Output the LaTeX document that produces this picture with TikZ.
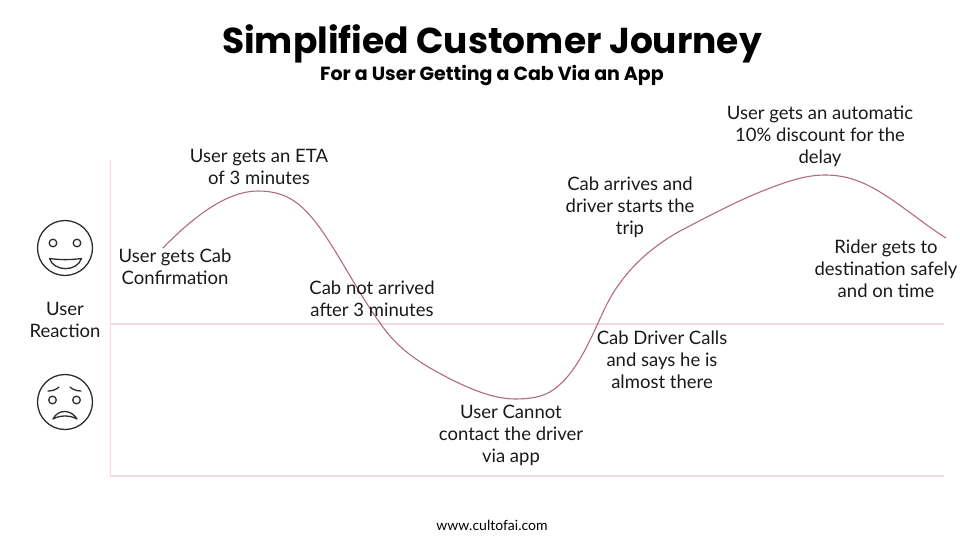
\documentclass[tikz,border=0pt]{standalone}
\usepackage{fontspec}
\setmainfont{Lato}
\newfontfamily\titlefont{Poppins}
\definecolor{axispink}{RGB}{248,214,226}
\definecolor{curvewine}{RGB}{178,105,130}
\definecolor{faceink}{RGB}{45,45,45}
\tikzset{
  axisline/.style={draw=axispink,line width=1.6pt},
  journey/.style={draw=curvewine,line width=1.1pt},
  label/.style={align=center,font=\fontsize{18.5}{22}\selectfont,text=black!90,inner sep=0pt},
  faceline/.style={draw=faceink,line width=1.3pt,line cap=round,line join=round},
}
\begin{document}
\begin{tikzpicture}[x=1pt,y=-1pt]
\useasboundingbox (0,0) rectangle (960,540);
\coordinate (axtop) at (110.5,160);
\coordinate (axorigin) at (110.5,476);
\coordinate (axend) at (944,476);
\coordinate (midl) at (110.5,324);
\coordinate (midr) at (944,324);
\draw[axisline] (axtop) -- (axorigin) -- (axend);
\draw[axisline] (midl) -- (midr);
\draw[journey] (163,248) .. controls (195,215) and (228,191) .. (258,191)
  .. controls (288,191) and (303,205) .. (320,228)
  .. controls (340,256) and (360,296) .. (380,323)
  .. controls (393,342) and (408,355) .. (430,368)
  .. controls (460,385) and (490,399) .. (515,399)
  .. controls (530,399) and (543,397) .. (553,390)
  .. controls (572,377) and (585,352) .. (598,323)
  .. controls (604,310) and (610,296) .. (620,283)
  .. controls (635,262) and (655,245) .. (680,231)
  .. controls (705,218) and (733,203) .. (760,192)
  .. controls (785,182) and (805,175) .. (825,175)
  .. controls (845,175) and (862,181) .. (880,192)
  .. controls (903,206) and (925,225) .. (946,238);
\node[inner sep=0pt,font=\titlefont\bfseries\fontsize{36}{40}\selectfont] (title) at (492,44) {Simplified Customer Journey};
\node[inner sep=0pt,font=\titlefont\bfseries\fontsize{19}{22}\selectfont] (subtitle) at (492,76) {For a User Getting a Cab Via an App};
\node[label] (n1) at (175,267) {User gets Cab\\Confirmation};
\node[label] (n2) at (259,167) {User gets an ETA\\of 3 minutes};
\node[label] (n3) at (372,299) {Cab not arrived\\after 3 minutes};
\node[label] (n4) at (511,435) {User Cannot\\contact the driver\\via app};
\node[label] (n5) at (662,359.5) {Cab Driver Calls\\and says he is\\almost there};
\node[label] (n6) at (630,207.5) {Cab arrives and\\driver starts the\\trip};
\node[label] (n7) at (820,136.5) {User gets an automatic\\10\% discount for the\\delay};
\node[label] (n8) at (886,268.5) {Rider gets to\\destination safely\\and on time};
\node[label] (ylab) at (65,320) {User\\Reaction};
\node[inner sep=0pt,font=\fontsize{14}{16}\selectfont] (site) at (492,525) {www.cultofai.com};
% happy face
\draw[faceline] (65,248) circle (27.5);
\draw[faceline] (53,243) circle (3.8);
\draw[faceline] (77,243) circle (3.8);
\draw[faceline] (49.5,258.5) .. controls (60,260) and (71,260) .. (81.5,258.5) .. controls (77,272) and (54,272) .. (49.5,258.5) -- cycle;
% worried face
\draw[faceline] (65,402) circle (27.5);
\draw[faceline] (52.5,400) circle (3.8);
\draw[faceline] (76.5,400) circle (3.8);
\draw[faceline] (48,391) .. controls (53,391) and (57,389) .. (59,387);
\draw[faceline] (70,387) .. controls (72,389) and (76,391) .. (81,391);
\draw[faceline] (53,419) .. controls (58,409) and (71,409) .. (77,419) .. controls (70,415) and (60,415) .. (53,419) -- cycle;
\end{tikzpicture}
\end{document}
